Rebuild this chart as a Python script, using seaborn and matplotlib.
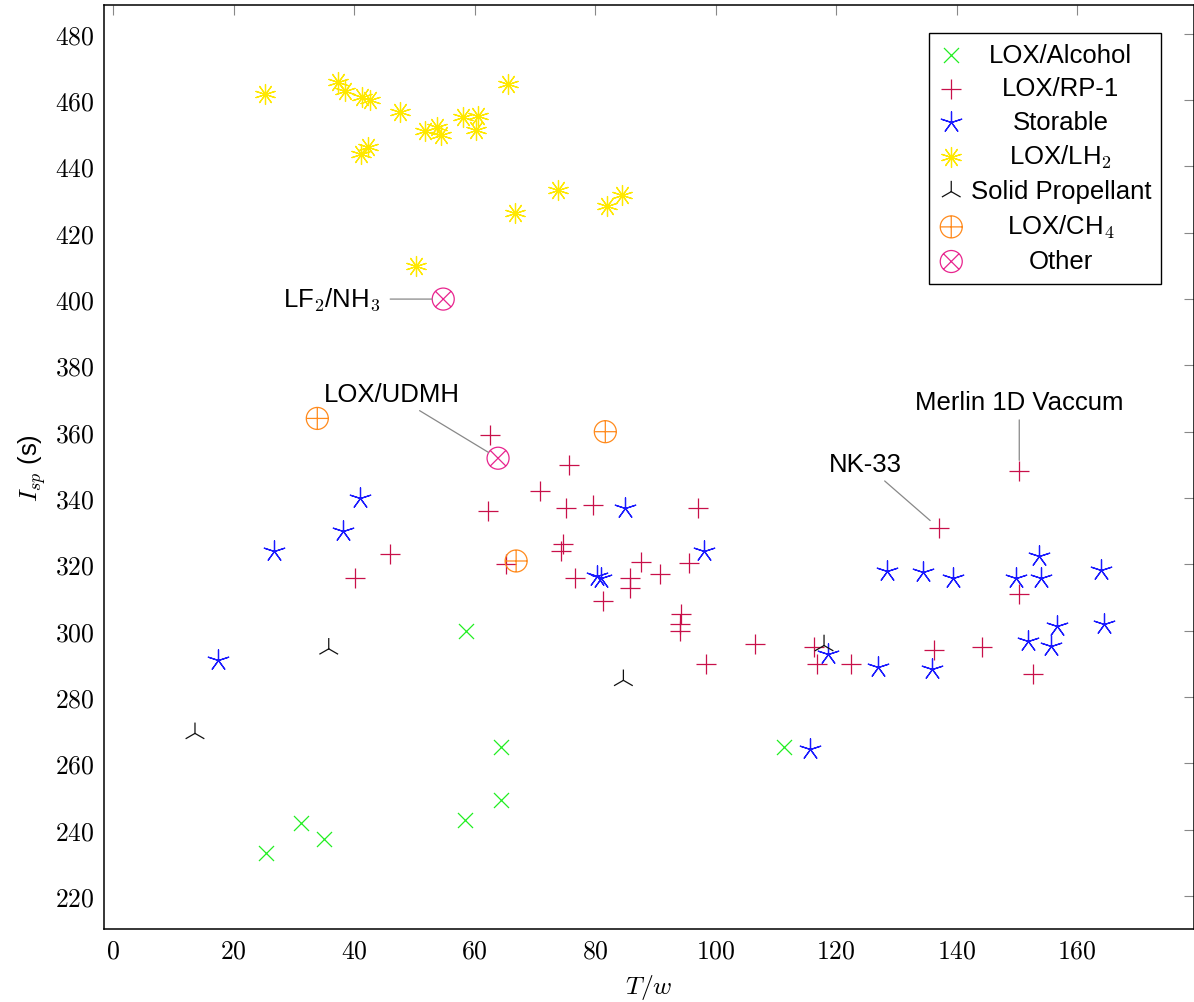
import numpy as np
import pandas as pd
import matplotlib
matplotlib.use("Agg")
import matplotlib.pyplot as plt
from matplotlib.path import Path
from matplotlib.ticker import FuncFormatter, MultipleLocator
import seaborn as sns

# --- data (thrust-to-weight vs specific impulse) ---
alcohol_tw = [25.4, 31.2, 35.0, 58.6, 58.4, 64.4, 64.4, 111.4]
alcohol_isp = [233, 242, 237, 300, 243, 265, 249, 265]

rp1_tw = [62.6, 75.7, 70.8, 62.2, 75.1, 79.6, 97.0, 45.9, 40.1, 74.6, 74.3,
          65.2, 76.6, 87.6, 90.8, 95.6, 85.8, 85.8, 81.3, 94.3, 94.1, 94.1,
          98.4, 106.6, 116.4, 116.8, 122.5, 136.3, 144.2, 150.4, 137.0,
          150.4, 152.6]
rp1_isp = [359, 350, 342, 336, 337, 338, 337, 323, 316, 326, 324,
           320, 316, 320.6, 317, 320.3, 316, 313, 309, 305, 302, 300,
           290, 296, 295, 290, 290, 294, 295, 348, 331,
           311, 287]

storable_tw = [17.4, 26.7, 38.2, 41.0, 85.0, 80.4, 81.0, 98.1, 128.4, 134.4,
               139.4, 153.6, 149.9, 154.0, 164.0, 156.6, 164.4, 151.8, 155.7,
               118.7, 127.0, 136.0, 115.7]
storable_isp = [291, 324, 330, 340, 337, 316.5, 316, 324, 318, 317.6,
                316, 322.4, 316, 316, 318.4, 301.3, 302, 297, 295.5,
                293, 289, 288.5, 264.3]

lh2_tw = [25.2, 37.3, 38.5, 41.4, 42.7, 47.6, 65.6, 58.0, 60.5, 60.3,
          51.8, 53.8, 54.5, 42.3, 41.2, 73.8, 66.7, 82.0, 84.5, 50.2]
lh2_isp = [462, 465.4, 462.9, 461, 459.9, 456.4, 464.9, 454.9, 455.2, 451,
           450.8, 451.8, 449.5, 446, 443.8, 433, 426, 428, 431.4, 410]

solid_tw = [13.6, 35.8, 84.7, 118.0]
solid_isp = [269, 294.5, 285, 295.5]

ch4_tw = [33.9, 81.7, 66.9]
ch4_isp = [364, 360, 321]

other_tw = [54.8, 63.9]
other_isp = [400, 352]

# --- fonts ---
sns.set_theme(style="white")
plt.rcParams["font.family"] = ["Liberation Sans", "DejaVu Sans"]
plt.rcParams["mathtext.fontset"] = "cm"
plt.rcParams["text.color"] = "black"
plt.rcParams["axes.labelcolor"] = "black"
FS = 18.5

# --- custom pgfplots-like markers ---
circ = Path.unit_circle()
plus_lines = Path([(-1, 0), (1, 0), (0, -1), (0, 1)],
                  [Path.MOVETO, Path.LINETO, Path.MOVETO, Path.LINETO])
d = np.sqrt(0.5)
cross_lines = Path([(-d, -d), (d, d), (-d, d), (d, -d)],
                   [Path.MOVETO, Path.LINETO, Path.MOVETO, Path.LINETO])
oplus = Path.make_compound_path(circ, plus_lines)
otimes = Path.make_compound_path(circ, cross_lines)
c30, s30 = np.cos(np.pi / 6), 0.5
mercedes = Path([(0, 0), (0, 1), (0, 0), (-c30, -s30), (0, 0), (c30, -s30)],
                [Path.MOVETO, Path.LINETO, Path.MOVETO, Path.LINETO,
                 Path.MOVETO, Path.LINETO])

fig = plt.figure(figsize=(11.94, 10.03), dpi=100)
ax = fig.add_axes([0.0871, 0.0728, 0.9129, 0.9212])

lw = 0.9
groups = [
    ("LOX/Alcohol", alcohol_tw, alcohol_isp, "x", "#22EE22", 117, False),
    ("LOX/RP-1", rp1_tw, rp1_isp, "+", "#C8104A", 228, False),
    ("Storable", storable_tw, storable_isp, (5, 2, 0), "#1A1AFF", 237, False),
    ("LOX/LH$_2$", lh2_tw, lh2_isp, (10, 2, 0), "#FFE800", 207, False),
    ("Solid Propellant", solid_tw, solid_isp, mercedes, "#111111", 242, True),
    ("LOX/CH$_4$", ch4_tw, ch4_isp, oplus, "#FF8A1C", 251, True),
    ("Other", other_tw, other_isp, otimes, "#E8248E", 251, True),
]

for label, xs, ys, mk, col, size, hollow in groups:
    df = pd.DataFrame({"tw": xs, "isp": ys})
    if hollow:
        sns.scatterplot(data=df, x="tw", y="isp", marker=mk, s=size,
                        facecolor="none", edgecolor=col, linewidth=lw,
                        label=label, ax=ax, zorder=3)
    else:
        sns.scatterplot(data=df, x="tw", y="isp", marker=mk, s=size,
                        color=col, linewidth=lw, label=label, ax=ax, zorder=3)

# --- annotations (pins) ---
pin = dict(arrowstyle="-", color="#888888", lw=0.9, shrinkB=8)
ax.annotate("Merlin 1D Vaccum", xy=(150.4, 348), xytext=(150.4, 369),
            ha="center", va="center", fontsize=FS, arrowprops=pin)
ax.annotate("NK-33", xy=(137.0, 331), xytext=(124.8, 350.3),
            ha="center", va="center", fontsize=FS, arrowprops=pin)
ax.annotate("LOX/UDMH", xy=(63.9, 352), xytext=(46.3, 371.4),
            ha="center", va="center", fontsize=FS, arrowprops=pin)
ax.annotate("LF$_2$/NH$_3$", xy=(54.8, 400), xytext=(44.3, 400),
            ha="right", va="center", fontsize=FS,
            arrowprops=dict(pin, shrinkA=5))

# --- axes styling ---
ax.set_xlim(-1.5, 179.4)
ax.set_ylim(210, 488.7)
ax.yaxis.set_major_locator(MultipleLocator(20))
ax.set_xticks(np.arange(0, 161, 20))
math_fmt = FuncFormatter(lambda v, p: "$%d$" % v)
ax.xaxis.set_major_formatter(math_fmt)
ax.yaxis.set_major_formatter(math_fmt)
ax.tick_params(direction="in", top=True, right=True, length=7.5, width=0.8,
               color="#888888", labelsize=FS, pad=7, labelcolor="black")
for sp in ax.spines.values():
    sp.set_color("black")
    sp.set_linewidth(1.1)
ax.set_xlabel("$T/w$", fontsize=FS, labelpad=7)
ax.set_ylabel("$I_{sp}$ (s)", fontsize=FS, labelpad=5)
ax.grid(False)

leg = ax.legend(loc="upper right", bbox_to_anchor=(0.97, 0.97),
                borderaxespad=0, frameon=True, fancybox=False,
                edgecolor="black", fontsize=FS, handlelength=0.9,
                handletextpad=0.3, labelspacing=0.36, borderpad=0.4,
                framealpha=1)
leg.get_frame().set_linewidth(1.0)

# centre the legend labels like pgfplots does
fig.canvas.draw()
renderer = fig.canvas.get_renderer()
widths = [t.get_window_extent(renderer).width for t in leg.get_texts()]
wmax = max(widths)
for t, w in zip(leg.get_texts(), widths):
    t.set_position(((wmax - w) / 2, 0))

fig.savefig("out.png", dpi=100)
